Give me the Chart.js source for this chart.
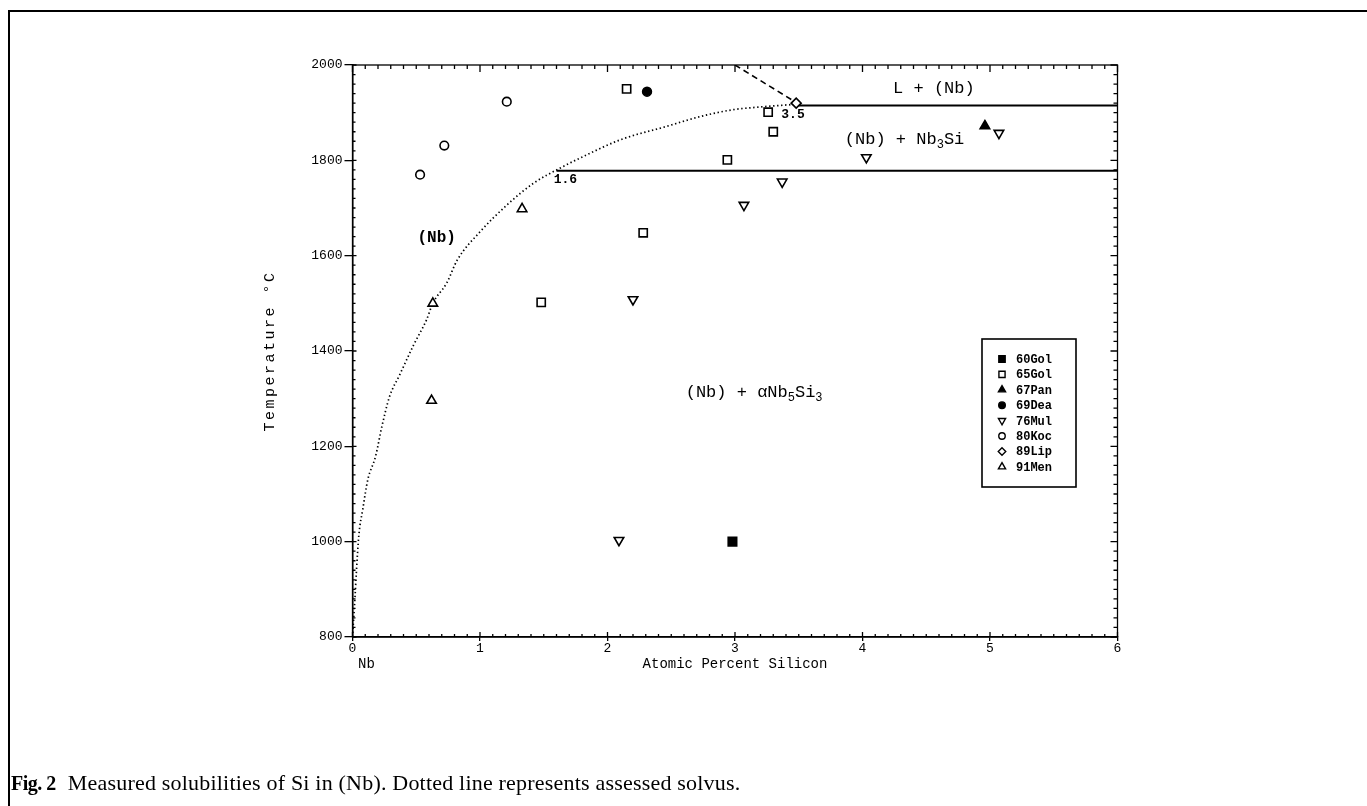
<!DOCTYPE html>
<html>
<head>
<meta charset="utf-8">
<title>Measured solubilities of Si in (Nb)</title>
<script src="https://cdn.jsdelivr.net/npm/chart.js@4.4.0/dist/chart.umd.min.js"></script>
<style>
    html, body { margin: 0; padding: 0; background: #fff; }
    #wrap { position: relative; width: 1367px; height: 806px; overflow: hidden; }
    #frame { position: absolute; left: 8px; top: 10px; width: 1400px; height: 900px;
             border-left: 2px solid #000; border-top: 2px solid #000; }
    #chart { position: absolute; left: 0; top: 0; }
    #caption { position: absolute; left: 11px; top: 770px; font-family: "Liberation Serif", serif;
               font-size: 22px; color: #000; letter-spacing: 0.2px; }
    #caption b { font-size: 20px; letter-spacing: -0.5px; margin-right: 12px; }
</style>
</head>
<body>
<div id="wrap">
    <div id="frame"></div>
    <canvas id="chart" width="1367" height="806"></canvas>
    <div id="caption"><b>Fig. 2</b>Measured solubilities of Si in (Nb). Dotted line represents assessed solvus.</div>
</div>
<script>
// axes
const xMin = 0, xMax = 6, xStep = 1, xMinorStep = 0.1;
const tMin = 800, tMax = 2000, tStep = 200, tMinorStep = 20;

// measured points (at.% Si, °C)
const si60Gol = [2.98];
const t60Gol  = [1000];
const si65Gol = [1.48, 2.15, 2.28, 2.94, 3.26, 3.30];
const t65Gol  = [1502, 1950, 1648, 1801, 1901, 1860];
const si67Pan = [4.96];
const t67Pan  = [1872];
const si69Dea = [2.31];
const t69Dea  = [1944];
const si76Mul = [2.09, 2.20, 3.07, 3.37, 4.03, 5.07];
const t76Mul  = [1003, 1508, 1706, 1755, 1806, 1857];
const si80Koc = [0.53, 0.72, 1.21];
const t80Koc  = [1770, 1831, 1923];
const si89Lip = [3.48];
const t89Lip  = [1920];
const si91Men = [0.62, 0.63, 1.33];
const t91Men  = [1296, 1500, 1698];

// assessed solvus (dotted)
const solvusSi = [0, 0.02, 0.03, 0.05, 0.08, 0.12, 0.18, 0.23, 0.29, 0.37, 0.48, 0.58, 0.63, 0.74, 0.82, 1.0, 1.21, 1.42, 1.63, 1.81, 2.1, 2.46, 2.73, 2.98, 3.2, 3.5];
const solvusT  = [800, 885, 934, 1014, 1067, 1130, 1178, 1241, 1304, 1350, 1413, 1465, 1500, 1543, 1590, 1650, 1706, 1752, 1784, 1808, 1843, 1871, 1892, 1906, 1912, 1918];

// liquidus piece (dashed) and the two horizontals
const liqSi = [3.0, 3.5];
const liqT  = [2000, 1918];
const eutSi = [3.5, 6];
const eutT  = [1915, 1915];
const eudSi = [1.6, 6];
const eudT  = [1778, 1778];

// labels inside the plot (_n = subscript)
const labelText = ['L + (Nb)', '(Nb) + Nb_3Si', '(Nb) + αNb_5Si_3', '(Nb)', '3.5', '1.6'];
const labelSi   = [4.56, 4.33, 3.15, 0.66, 3.455, 1.67];
const labelT    = [1951, 1843, 1312, 1638, 1895, 1759];

// target plot box on the page
const plotLeft = 352.5, plotRight = 1117.5, plotTop = 65, plotBottom = 637;

function pts(xs, ys) { return xs.map((v, i) => ({ x: v, y: ys[i] })); }

function marker(label, xs, ys, style, filled, radius, rotation) {
    return {
        label: label,
        data: pts(xs, ys),
        pointStyle: style,
        rotation: rotation || 0,
        pointRadius: radius,
        pointBackgroundColor: filled ? '#000' : '#fff',
        pointBorderColor: '#000',
        pointBorderWidth: 1.6,
        showLine: false
    };
}

function line(xs, ys, width, dash, extra) {
    return Object.assign({
        label: '',
        data: pts(xs, ys),
        showLine: true,
        borderColor: '#000',
        borderWidth: width,
        borderDash: dash,
        pointRadius: 0,
        pointHoverRadius: 0,
        fill: false
    }, extra || {});
}

const markers = [
    marker('60Gol', si60Gol, t60Gol, 'rect', true, 6),
    marker('65Gol', si65Gol, t65Gol, 'rect', false, 5.8),
    marker('67Pan', si67Pan, t67Pan, 'triangle', true, 5.5),
    marker('69Dea', si69Dea, t69Dea, 'circle', true, 4.4),
    marker('76Mul', si76Mul, t76Mul, 'triangle', false, 5.5, 180),
    marker('80Koc', si80Koc, t80Koc, 'circle', false, 4.3),
    marker('89Lip', si89Lip, t89Lip, 'rectRot', false, 5),
    marker('91Men', si91Men, t91Men, 'triangle', false, 5.5)
];

const lines = [
    line(solvusSi, solvusT, 1.7, [1.4, 2.6], { cubicInterpolationMode: 'monotone' }),
    line(liqSi, liqT, 1.6, [6, 4]),
    line(eutSi, eutT, 2, []),
    line(eudSi, eudT, 2, [])
];

// draws text with _digit subscripts, centred on (x, y)
function drawRich(ctx, text, x, y, size, weight) {
    const parts = [];
    for (let i = 0; i < text.length; i++) {
        if (text[i] === '_') { parts.push({ s: text[i + 1], sub: true }); i++; }
        else if (parts.length && !parts[parts.length - 1].sub) parts[parts.length - 1].s += text[i];
        else parts.push({ s: text[i], sub: false });
    }
    const big = weight + ' ' + size + 'px "Liberation Mono"';
    const small = weight + ' ' + Math.round(size * 0.68) + 'px "Liberation Mono"';
    let w = 0;
    parts.forEach(p => { ctx.font = p.sub ? small : big; p.w = ctx.measureText(p.s).width; w += p.w; });
    let cx = x - w / 2;
    ctx.textAlign = 'left';
    ctx.textBaseline = 'middle';
    parts.forEach(p => {
        ctx.font = p.sub ? small : big;
        ctx.fillText(p.s, cx, p.sub ? y + size * 0.3 : y);
        cx += p.w;
    });
}

const decorPlugin = {
    id: 'decor',
    afterDatasetsDraw(chart) {
        const { ctx, chartArea: a, scales } = chart;
        const x = scales.x, y = scales.y;
        ctx.save();
        ctx.strokeStyle = '#000';
        ctx.fillStyle = '#000';
        ctx.lineWidth = 1.3;

        // frame
        ctx.strokeRect(a.left, a.top, a.width, a.height);

        // inner ticks on all four sides
        ctx.beginPath();
        for (let v = xMin; v <= xMax + 1e-6; v += xMinorStep) {
            const px = x.getPixelForValue(v);
            const major = Math.abs(v - Math.round(v)) < 1e-6;
            ctx.moveTo(px, a.bottom); ctx.lineTo(px, a.bottom - (major ? 5 : 3));
            ctx.moveTo(px, a.top); ctx.lineTo(px, a.top + (major ? 7 : 4));
        }
        for (let v = tMin; v <= tMax + 1e-6; v += tMinorStep) {
            const py = y.getPixelForValue(v);
            const major = (v - tMin) % tStep === 0;
            ctx.moveTo(a.left, py); ctx.lineTo(a.left + (major ? 4 : 3), py);
            ctx.moveTo(a.right, py); ctx.lineTo(a.right - (major ? 7 : 4), py);
        }
        ctx.stroke();

        // labels in the diagram
        labelText.forEach((t, i) => {
            const px = x.getPixelForValue(labelSi[i]);
            const py = y.getPixelForValue(labelT[i]);
            if (t.length <= 3) drawRich(ctx, t, px, py, 13, 'bold');
            else if (t === '(Nb)') drawRich(ctx, t, px, py, 16, 'bold');
            else drawRich(ctx, t, px, py, 17, 'normal');
        });

        // axis titles
        ctx.font = '15px "Liberation Mono"';
        ctx.letterSpacing = '2.5px';
        ctx.textAlign = 'center';
        ctx.textBaseline = 'middle';
        ctx.save();
        ctx.translate(270, (a.top + a.bottom) / 2);
        ctx.rotate(-Math.PI / 2);
        ctx.fillText('Temperature °C', 0, 0);
        ctx.restore();
        ctx.font = '14px "Liberation Mono"';
        ctx.letterSpacing = '0px';
        ctx.fillText('Atomic Percent Silicon', (a.left + a.right) / 2, a.bottom + 27);
        ctx.fillText('Nb', x.getPixelForValue(0.11), a.bottom + 27);

        // legend box
        const lx = 982, ly = 339, lw = 94, lh = 148;
        ctx.lineWidth = 1.6;
        ctx.strokeRect(lx, ly, lw, lh);
        ctx.font = 'bold 12px "Liberation Mono"';
        ctx.textAlign = 'left';
        markers.forEach((ds, i) => {
            const ey = 359 + i * 15.4;
            if (Chart.helpers && Chart.helpers.drawPoint) {
                ctx.fillStyle = ds.pointBackgroundColor;
                ctx.strokeStyle = '#000';
                ctx.lineWidth = 1.4;
                Chart.helpers.drawPoint(ctx, {
                    pointStyle: ds.pointStyle,
                    rotation: ds.rotation,
                    radius: ds.pointRadius * 0.75,
                    borderWidth: 1.4
                }, 1002, ey);
            }
            ctx.fillStyle = '#000';
            ctx.fillText(ds.label, 1016, ey + 1);
        });
        ctx.restore();
    }
};

const chart = new Chart(document.getElementById('chart'), {
    type: 'scatter',
    data: { datasets: markers.concat(lines) },
    options: {
        responsive: false,
        animation: false,
        devicePixelRatio: 1,
        layout: { padding: { left: 262, right: 1367 - plotRight, top: plotTop, bottom: 806 - plotBottom - 30 } },
        plugins: {
            legend: { display: false },
            tooltip: { enabled: false }
        },
        scales: {
            x: {
                type: 'linear',
                min: xMin, max: xMax,
                afterFit: s => { s.height = 30; },
                ticks: {
                    stepSize: xStep,
                    color: '#000',
                    padding: 0,
                    font: { family: 'Liberation Mono', size: 13 }
                },
                grid: { drawOnChartArea: false, drawTicks: true, tickLength: 4, color: '#000', lineWidth: 1.3 },
                border: { display: true, color: '#000', width: 1.5 }
            },
            y: {
                type: 'linear',
                min: tMin, max: tMax,
                afterFit: s => { s.width = 90.5; },
                ticks: {
                    stepSize: tStep,
                    color: '#000',
                    padding: 2,
                    font: { family: 'Liberation Mono', size: 13 },
                    callback: v => String(v)
                },
                grid: { drawOnChartArea: false, drawTicks: true, tickLength: 8, color: '#000', lineWidth: 1.3 },
                border: { display: true, color: '#000', width: 1.5 }
            }
        }
    },
    plugins: [decorPlugin]
});

// pin the plot box to where it sits in the figure
const ca = chart.chartArea;
const pad = chart.options.layout.padding;
chart.options.layout.padding = {
    left: pad.left + (plotLeft - ca.left),
    right: pad.right + (ca.right - plotRight),
    top: pad.top + (plotTop - ca.top),
    bottom: pad.bottom + (ca.bottom - plotBottom)
};
chart.update();
</script>
</body>
</html>
